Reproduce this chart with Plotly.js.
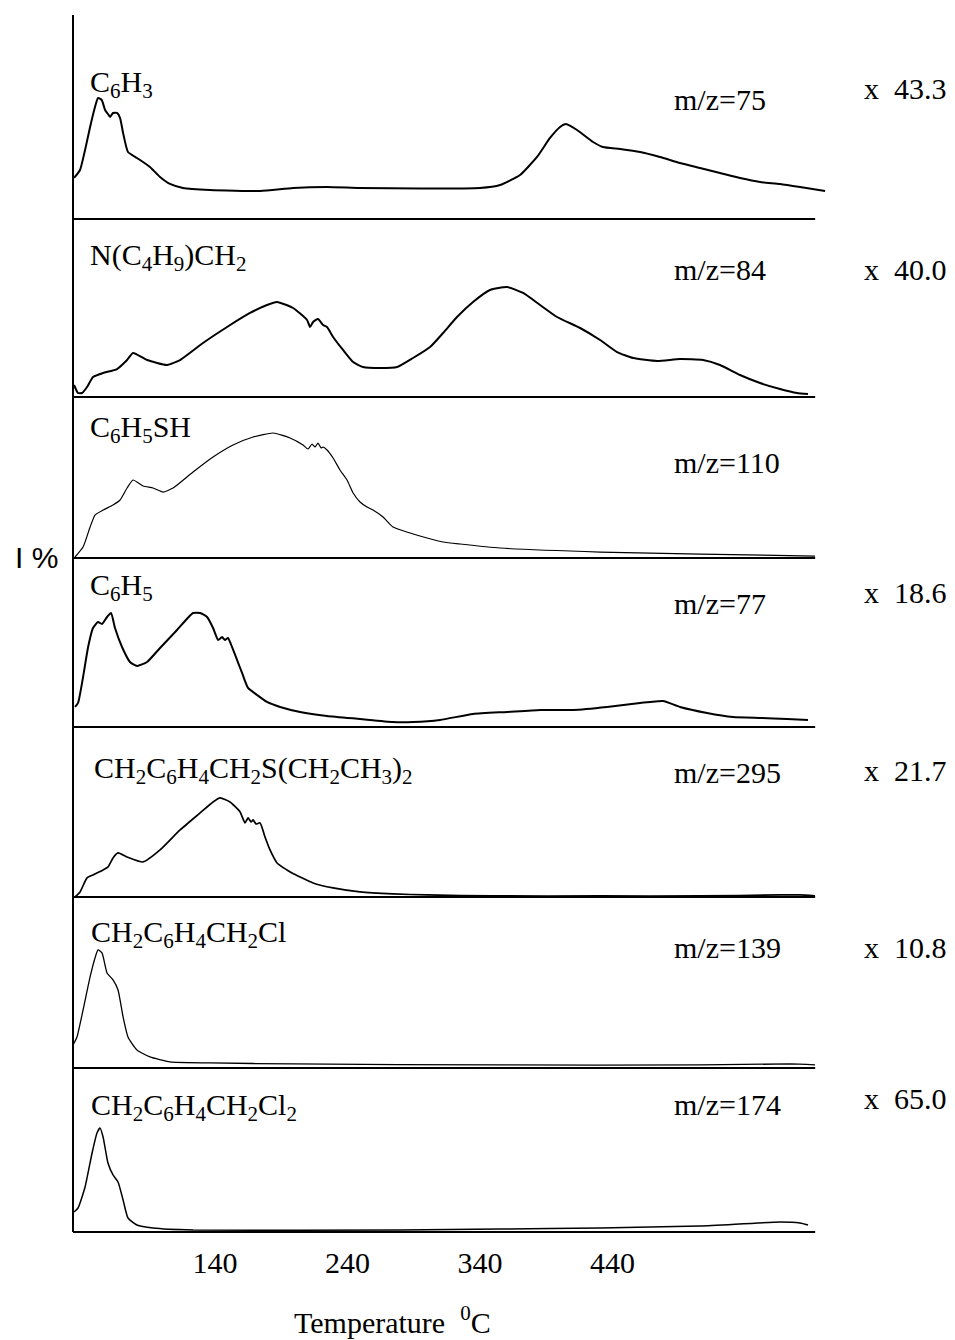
<!DOCTYPE html>
<html>
<head>
<meta charset="utf-8">
<script src="https://cdn.plot.ly/plotly-3.0.1.min.js"></script>
<style>
  html, body { margin: 0; padding: 0; background: #fff; }
  #chart { width: 955px; height: 1340px; }
</style>
</head>
<body>
<div id="chart"></div>
<script>
// TPD-MS traces, temperature in °C, intensity in arbitrary units per panel

// m/z = 75, C6H3
const t75 = [33.6, 38.1, 41.9, 45.7, 49.4, 51.7, 54.5, 57.0, 59.2, 60.8, 63.0, 66.0, 68.3, 70.6, 74.3, 81.1, 90.9, 98.5, 106.0, 115.8, 136.2, 174.0, 198.9, 224.5, 249.4, 294.7, 340.0, 355.1, 370.2, 383.0, 392.8, 400.4, 404.9, 413.2, 425.3, 432.8, 445.7, 460.8, 475.8, 490.9, 506.0, 521.1, 536.2, 551.3, 566.4, 581.5, 600.4];
const i75 = [41, 49, 69, 92, 112, 121, 119, 109, 105, 102, 106, 106, 101, 86, 67, 61, 52, 42, 35, 31, 29, 28, 31, 32, 31, 30.5, 31, 34, 44, 62, 81, 92, 95, 89, 77, 72, 70, 67, 62, 56, 51, 46, 41, 37, 35, 32, 28];

// m/z = 84, N(C4H9)CH2
const t84 = [33.6, 36.6, 39.6, 43.4, 47.9, 55.5, 66.0, 73.6, 78.1, 88.7, 103.8, 113.6, 130.9, 149.1, 166.4, 179.2, 186.8, 198.9, 209.4, 211.7, 214.0, 217.7, 221.5, 224.5, 229.1, 236.6, 244.2, 251.7, 264.5, 277.4, 289.4, 302.3, 312.1, 322.6, 334.7, 347.5, 360.4, 372.5, 385.3, 398.1, 415.5, 430.6, 443.4, 455.5, 473.6, 490.9, 508.3, 521.1, 536.2, 551.3, 566.4, 579.2, 587.5];
const i84 = [12, 4, 4, 10, 20, 24, 28, 37, 44, 37, 32, 37, 54, 70, 84, 92, 95, 89, 77, 70, 75, 78, 72, 70, 60, 47, 35, 30, 29, 30, 39, 50, 64, 80, 95, 107, 110, 104, 92, 80, 69, 57, 45, 39, 36, 38, 37, 32, 22, 14, 8, 4, 3];

// m/z = 110, C6H5SH
const t110 = [34.3, 40.4, 45.7, 49.4, 55.5, 63.0, 68.3, 73.6, 78.1, 85.7, 93.2, 100.8, 108.3, 123.4, 138.5, 153.6, 168.7, 183.8, 196.6, 206.4, 210.2, 213.2, 215.5, 217.7, 220.0, 221.5, 224.5, 229.1, 234.3, 239.6, 244.2, 249.4, 254.7, 259.2, 266.8, 274.3, 287.2, 300.0, 312.1, 324.9, 355.1, 430.6, 506.0, 592.8];
const i110 = [1, 11, 31, 43, 48, 53, 58, 70, 78, 72, 70, 66, 70, 86, 101, 113, 121, 125, 120, 113, 109, 114, 111, 115, 110, 111, 108, 100, 88, 78, 65, 56, 51, 48, 41, 31, 25, 20, 16, 14, 10, 6, 4, 2];

// m/z = 77, C6H5
const t77 = [34.3, 36.6, 40.4, 44.2, 47.9, 51.7, 54.7, 58.5, 61.5, 64.5, 69.8, 75.8, 81.1, 88.7, 98.5, 111.3, 123.4, 128.7, 134.0, 138.5, 142.3, 145.3, 147.5, 149.8, 152.8, 156.6, 160.4, 164.9, 171.7, 179.2, 189.1, 204.2, 224.5, 249.4, 274.3, 289.4, 309.8, 334.7, 360.4, 385.3, 410.2, 435.8, 460.8, 478.1, 490.9, 511.3, 530.9, 551.3, 571.7, 587.5];
const i77 = [20, 24, 50, 80, 99, 105, 103, 110, 114, 99, 80, 65, 61, 65, 79, 97, 114, 114, 110, 99, 87, 90, 87, 89, 80, 67, 54, 39, 32, 25, 20, 15, 11, 8, 5, 5, 7, 13, 15, 17, 17, 20, 24, 26, 20, 14, 10, 9, 8, 7];

// m/z = 295, CH2C6H4CH2S(CH2CH3)2
const t295 = [34.3, 38.1, 43.4, 47.9, 55.5, 59.2, 63.0, 66.8, 73.6, 85.7, 98.5, 113.6, 128.7, 138.5, 143.8, 151.3, 158.9, 162.6, 164.9, 167.2, 168.7, 170.9, 174.0, 177.7, 181.5, 186.8, 194.3, 198.1, 204.2, 214.0, 229.1, 249.4, 274.3, 300.0, 349.8, 430.6, 506.0, 566.4, 581.5, 592.8];
const i295 = [0, 5, 19, 22, 27, 30, 39, 44, 40, 35, 47, 67, 84, 95, 99, 95, 85, 74, 79, 75, 77, 73, 74, 60, 47, 34, 27, 24, 20, 14, 9, 5, 3, 2, 1, 1, 1, 2, 2, 1];

// m/z = 139, CH2C6H4CH2Cl
const t139 = [32.8, 35.8, 40.4, 45.7, 49.4, 51.7, 54.7, 58.5, 63.0, 66.8, 70.6, 74.3, 81.1, 90.9, 106.0, 136.2, 198.9, 355.1, 506.0, 573.9, 592.8];
const i139 = [23, 31, 58, 91, 110, 118, 115, 95, 88, 78, 51, 31, 18, 11, 6, 5, 4, 3, 3, 4, 3];

// m/z = 174, CH2C6H4CH2Cl2
const t174 = [33.6, 36.6, 41.9, 47.2, 50.9, 53.2, 55.5, 59.2, 63.0, 66.8, 70.6, 74.3, 81.1, 93.2, 123.4, 279.6, 355.1, 430.6, 506.0, 566.4, 581.5, 587.5];
const i174 = [20, 24, 45, 79, 99, 104, 95, 69, 57, 50, 32, 14, 7, 4, 2, 2, 3, 4, 6, 10, 9, 7];

// panel texts, top to bottom
const fragments = [
  'C<sub>6</sub>H<sub>3</sub>',
  'N(C<sub>4</sub>H<sub>9</sub>)CH<sub>2</sub>',
  'C<sub>6</sub>H<sub>5</sub>SH',
  'C<sub>6</sub>H<sub>5</sub>',
  'CH<sub>2</sub>C<sub>6</sub>H<sub>4</sub>CH<sub>2</sub>S(CH<sub>2</sub>CH<sub>3</sub>)<sub>2</sub>',
  'CH<sub>2</sub>C<sub>6</sub>H<sub>4</sub>CH<sub>2</sub>Cl',
  'CH<sub>2</sub>C<sub>6</sub>H<sub>4</sub>CH<sub>2</sub>Cl<sub>2</sub>'
];
const massLabels = ['m/z=75', 'm/z=84', 'm/z=110', 'm/z=77', 'm/z=295', 'm/z=139', 'm/z=174'];
const scaleFactors = ['43.3', '40.0', null, '18.6', '21.7', '10.8', '65.0'];
const tempTicks = [140, 240, 340, 440];

// ---- layout geometry ----
const temps = [t75, t84, t110, t77, t295, t139, t174];
const ints = [i75, i84, i110, i77, i295, i139, i174];
const widths = [2.0, 2.0, 1.2, 2.0, 1.7, 1.3, 1.5];
// panel boundaries in paper units (top of first panel = 1, bottom of last = 0)
const bounds = [1, 0.8324, 0.6861, 0.5538, 0.4150, 0.2753, 0.1348, 0];
// vertical full scale per panel
const yMax = [204, 178, 161, 169, 170, 171, 164];
// label vertical centres (paper)
const fragY = [0.9435, 0.8010, 0.6600, 0.5300, 0.3800, 0.2445, 0.1025];
const fragX = [0.0199, 0.0199, 0.0199, 0.0199, 0.0252, 0.0212, 0.0212];
const massY = [0.9302, 0.7905, 0.6319, 0.5168, 0.3772, 0.2334, 0.1044];
const factY = [0.9400, 0.7905, null, 0.5251, 0.3796, 0.2334, 0.1101];

const serif = 'Liberation Serif, Times New Roman, serif';
const txtSize = 30;

const traces = [];
const layout = {
  width: 955,
  height: 1340,
  margin: { l: 73, r: 127, t: 15, b: 108 },
  paper_bgcolor: '#ffffff',
  plot_bgcolor: '#ffffff',
  showlegend: false,
  xaxis: {
    range: [32.8, 602.6],
    anchor: 'y7',
    showgrid: false,
    zeroline: false,
    showline: false,
    ticks: '',
    tickmode: 'array',
    tickvals: tempTicks,
    ticktext: tempTicks.map(String),
    ticklabelstandoff: 10,
    tickfont: { family: serif, size: txtSize, color: '#000' },
    fixedrange: true
  },
  shapes: [],
  annotations: []
};

for (let k = 0; k < 7; k++) {
  const ax = 'y' + (k + 1);
  const key = 'yaxis' + (k === 0 ? '' : (k + 1));
  layout[key] = {
    domain: [bounds[k + 1], bounds[k]],
    range: [0, yMax[k]],
    anchor: 'x',
    visible: false,
    fixedrange: true
  };
  traces.push({
    type: 'scatter',
    mode: 'lines',
    x: temps[k],
    y: ints[k],
    xaxis: 'x',
    yaxis: ax,
    line: { color: '#000', width: widths[k], shape: 'spline', smoothing: 0.5 },
    hoverinfo: 'skip'
  });
  // panel base line
  layout.shapes.push({
    type: 'line', xref: 'paper', yref: 'paper',
    x0: 0, x1: 0.983, y0: bounds[k + 1], y1: bounds[k + 1],
    line: { color: '#000', width: 2 }
  });
  layout.annotations.push({
    xref: 'paper', yref: 'paper', x: fragX[k], y: fragY[k],
    xanchor: 'left', yanchor: 'middle', showarrow: false,
    text: fragments[k], font: { family: serif, size: txtSize, color: '#000' }
  });
  layout.annotations.push({
    xref: 'paper', yref: 'paper', x: 0.7934, y: massY[k],
    xanchor: 'left', yanchor: 'middle', showarrow: false,
    text: massLabels[k], font: { family: serif, size: txtSize, color: '#000' }
  });
  if (scaleFactors[k] !== null) {
    layout.annotations.push({
      xref: 'paper', yref: 'paper', x: 1.045, y: factY[k],
      xanchor: 'left', yanchor: 'middle', showarrow: false,
      text: 'x\u00a0\u00a0' + scaleFactors[k], font: { family: serif, size: txtSize, color: '#000' }
    });
  }
}

// intensity axis
layout.shapes.push({
  type: 'line', xref: 'paper', yref: 'paper',
  x0: 0, x1: 0, y0: 0, y1: 1,
  line: { color: '#000', width: 2 }
});
layout.annotations.push({
  xref: 'paper', yref: 'paper', x: -0.049, y: 0.5546,
  xanchor: 'center', yanchor: 'middle', showarrow: false,
  text: 'I %', font: { family: 'Liberation Sans, Arial, sans-serif', size: 30, color: '#000' }
});
// temperature axis title
layout.annotations.push({
  xref: 'paper', yref: 'paper', x: 0.4238, y: -0.0723,
  xanchor: 'center', yanchor: 'middle', showarrow: false,
  text: 'Temperature\u00a0\u00a0<sup>0</sup>C',
  font: { family: serif, size: txtSize, color: '#000' }
});

Plotly.newPlot('chart', traces, layout, { staticPlot: true, displayModeBar: false });
</script>
</body>
</html>
